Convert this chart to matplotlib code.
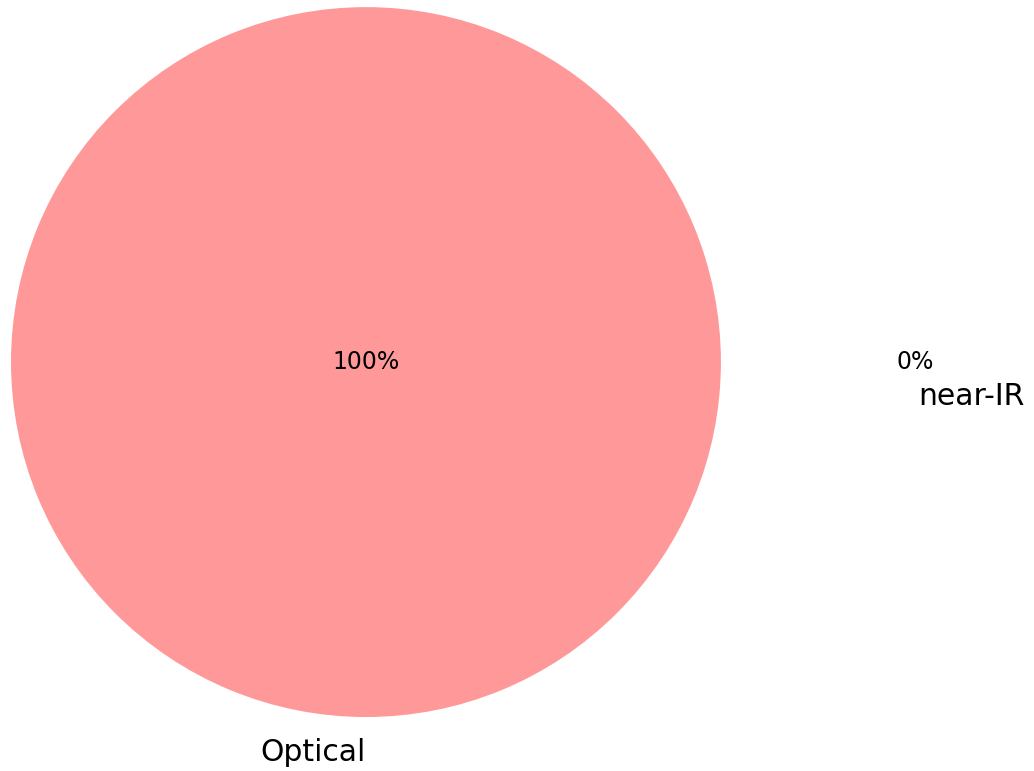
import matplotlib
matplotlib.use("Agg")
import matplotlib.pyplot as plt

# data
labels = ['Optical', 'near-IR']
sizes = [100, 0]
colors = ['#ff9999', '#66b3ff']

fig = plt.figure(figsize=(10.34, 7.71), dpi=100)
ax = fig.add_axes([0, 0, 1, 1])

wedges, texts, autotexts = ax.pie(sizes, labels=labels, colors=colors,
                                  autopct='%1.0f%%', startangle=90,
                                  textprops={'fontsize': 17})
for t in texts:
    t.set_fontsize(21.5)

# place the percentage / label texts like the original
autotexts[0].set_position((0, 0))
autotexts[1].set_position((1.546, 0.0))
texts[0].set_ha('right')
texts[1].set_position((1.555, -0.098))
texts[1].set_ha('left')

ax.set_xlim(-1.031, 1.882)
ax.set_ylim(-1.152, 1.020)
ax.set_aspect('equal')
ax.axis('off')

fig.savefig('out.png', dpi=100)
